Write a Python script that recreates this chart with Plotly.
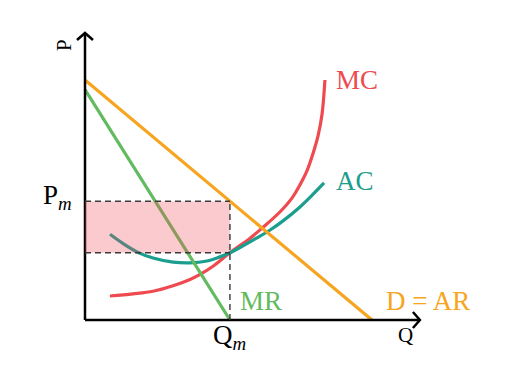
import plotly.graph_objects as go

# ---- data (economic units) ----
D_Q = [0, 10]
D_P = [10, 0]
MR_Q = [0, 5.05]
MR_P = [9.6, 0]
MC_Q = [0.87, 1.67, 2.37, 3.07, 3.66, 4.01, 4.46, 5.05, 5.75, 6.2, 6.79, 7.21, 7.49, 7.74, 7.94, 8.12, 8.26, 8.36]
MC_P = [1.0, 1.09, 1.2, 1.43, 1.69, 1.9, 2.24, 2.8, 3.41, 3.86, 4.5, 5.08, 5.63, 6.23, 6.92, 7.67, 8.58, 10.0]
AC_Q = [0.87, 1.32, 1.81, 2.37, 3.07, 3.66, 4.25, 4.7, 5.05, 5.4, 5.99, 6.45, 6.9, 7.49, 7.94, 8.33]
AC_P = [3.57, 3.19, 2.84, 2.58, 2.41, 2.38, 2.46, 2.63, 2.8, 3.02, 3.42, 3.75, 4.13, 4.71, 5.23, 5.71]
QM = 5.05
PM = 4.95
AC_AT_QM = 2.8
Q_MAX = 11.67
P_MAX = 11.96

# colours
C_MC = "#ee4a4f"
C_AC = "#1b9e8e"
C_MR = "#62bb5e"
C_D = "#f7a521"

SX = 28.7   # px per Q unit
SY = 24.0   # px per P unit
BODY = 8    # browser default body margin
W, H = 532 - BODY, 380 - BODY
OX, OY = 85, 320          # origin in window pixels
LX, LY = OX - BODY, OY - BODY  # origin in figure pixels

def dx(px):
    return px / SX

def dy(px):
    return px / SY

fig = go.Figure()
lw = 3.2
fig.add_trace(go.Scatter(x=MC_Q, y=MC_P, mode="lines", line=dict(color=C_MC, width=lw, shape="spline", smoothing=1.0)))
fig.add_trace(go.Scatter(x=AC_Q, y=AC_P, mode="lines", line=dict(color=C_AC, width=lw, shape="spline", smoothing=1.0)))
fig.add_trace(go.Scatter(x=D_Q, y=D_P, mode="lines", line=dict(color=C_D, width=lw)))
fig.add_trace(go.Scatter(x=MR_Q, y=MR_P, mode="lines", line=dict(color=C_MR, width=lw)))

shapes = []
# axes
shapes.append(dict(type="line", x0=0, y0=0, x1=0, y1=P_MAX, line=dict(color="black", width=2.5), layer="above"))
shapes.append(dict(type="line", x0=0, y0=0, x1=Q_MAX, y1=0, line=dict(color="black", width=2.5), layer="above"))
# arrow heads (open chevrons)
shapes.append(dict(type="path",
                   path=f"M {-dx(8)},{P_MAX - dy(7)} L 0,{P_MAX} L {dx(8)},{P_MAX - dy(7)}",
                   line=dict(color="black", width=2.5), layer="above"))
shapes.append(dict(type="path",
                   path=f"M {Q_MAX - dx(7)},{dy(8)} L {Q_MAX},0 L {Q_MAX - dx(7)},{-dy(8)}",
                   line=dict(color="black", width=2.5), layer="above"))
# profit rectangle
shapes.append(dict(type="rect", x0=0, y0=AC_AT_QM, x1=QM, y1=PM,
                   fillcolor="rgba(242,80,92,0.30)", line=dict(width=0), layer="above"))
dash = dict(color="#3a3a3a", width=1.4, dash="6px,4px")
shapes.append(dict(type="line", x0=0, y0=PM, x1=QM, y1=PM, line=dash, layer="above"))
shapes.append(dict(type="line", x0=0, y0=AC_AT_QM, x1=QM, y1=AC_AT_QM, line=dash, layer="above"))
shapes.append(dict(type="line", x0=QM, y0=0, x1=QM, y1=PM, line=dash, layer="above"))

FONT = "Liberation Serif"
ann = []
def label(text, x, y, color, size=26, xanchor="left", yanchor="middle", angle=0):
    ann.append(dict(text=text, x=x, y=y, xref="x", yref="y", showarrow=False,
                    font=dict(family=FONT, size=size, color=color),
                    xanchor=xanchor, yanchor=yanchor, textangle=angle))

label("MC", dx(334 - OX), dy(OY - 80), C_MC, size=27)
label("AC", dx(334 - OX), dy(OY - 181), C_AC, size=27)
label("MR", dx(238 - OX), dy(OY - 301), C_MR, size=27)
label("D = AR", dx(384 - OX), dy(OY - 301), C_D, size=27)
label("Q", dx(405 - OX), dy(OY - 335), "black", size=21, xanchor="center")
label("P", dx(64 - OX), dy(OY - 45), "black", size=21, xanchor="center", angle=-90)
label("Q<sub><i>m</i></sub>", QM, dy(OY - 337), "black", size=27, xanchor="center")
label("P<sub><i>m</i></sub>", dx(57 - OX), PM + dy(4), "black", size=27, xanchor="center")

fig.update_layout(
    width=W, height=H,
    margin=dict(l=0, r=0, t=0, b=0),
    paper_bgcolor="white", plot_bgcolor="white",
    showlegend=False,
    shapes=shapes, annotations=ann,
    xaxis=dict(range=[-LX / SX, (W - LX) / SX], visible=False, fixedrange=True),
    yaxis=dict(range=[(LY - H) / SY, LY / SY], visible=False, fixedrange=True),
)
fig.write_html("out.html")
